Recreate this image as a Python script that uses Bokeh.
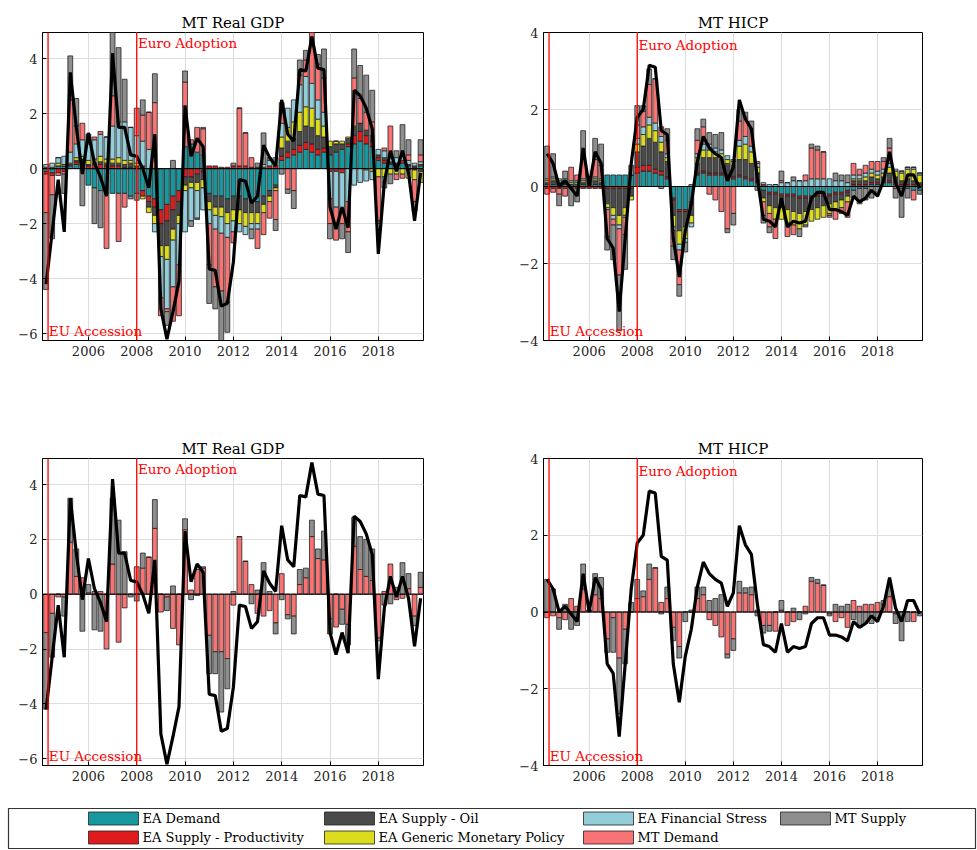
import numpy as np
from bokeh.plotting import figure
from bokeh.layouts import column, row
from bokeh.models import Range1d, Label, FixedTicker, Span
from bokeh.core.properties import value
from bokeh.embed import file_html
from bokeh.resources import INLINE

quarters = [2004.25 + 0.25 * i for i in range(63)]
series_names = ["EA Demand", "EA Supply - Productivity", "EA Supply - Oil",
                "EA Generic Monetary Policy", "EA Financial Stress", "MT Demand", "MT Supply"]
colors = ["#17989f", "#e01b1b", "#4a4a4a", "#dcdc1e", "#92cdd9", "#f87474", "#8e8e8e"]

gdp_total = [-4.2,-2.3,-0.4,-2.3,3.5,1.5,-0.2,1.3,0.2,-0.3,-1.0,4.2,1.5,1.5,0.5,0.45,0.0,-0.7,1.25,-5.1,
             -6.2,-5.2,-4.1,2.3,0.45,1.1,0.8,-3.65,-3.7,-5.0,-4.9,-3.4,-0.4,-0.45,-1.25,-1.0,0.85,0.4,0.1,2.5,
             1.25,1.0,3.6,3.55,4.8,3.65,3.6,-1.4,-2.2,-1.4,-2.15,2.85,2.65,2.2,1.45,-3.1,-0.5,0.65,-0.1,0.65,
             -0.15,-1.9,-0.15]
gdp_mt_demand = [-1.4,-0.7,-0.1,-0.1,1.9,0.65,0.6,0.05,0.1,0.1,-2.0,1.1,-1.75,-0.5,0.0,1.0,0.95,1.35,2.4,-0.65,
                 -0.1,-1.25,-1.85,2.35,0.15,0.9,0.95,-1.5,-2.1,-2.1,-2.35,-0.4,2.1,1.2,0.35,-0.7,-0.8,-0.6,-1.05,0.75,
                 -0.75,-0.8,0.35,0.6,2.1,1.3,1.25,-0.9,-1.2,-0.55,-1.1,1.75,0.9,0.65,0.5,-1.6,0.1,1.1,-0.2,-0.15,
                 0.2,-0.8,0.25]
gdp_mt_supply = [-2.8,-1.6,0.0,-0.7,1.6,1.0,-1.35,0.3,-1.3,-1.35,0.0,2.4,2.7,1.55,-0.1,-0.25,0.55,0.0,1.05,0.0,
                 -0.5,0.3,0.0,0.4,-0.2,-0.05,0.05,-1.4,-0.8,-2.2,-1.1,0.1,0.0,0.0,-0.35,0.15,1.15,0.1,-0.4,-0.2,
                 -0.15,-0.65,0.55,0.35,0.6,0.35,1.05,-0.55,0.0,-0.55,-0.75,1.05,1.2,1.35,1.15,-0.1,-0.4,-0.35,0.25,1.15,
                 0.55,-0.35,0.55]
gdp_ea_demand = [-0.1,-0.15,0.1,0.1, 0.1,0.15,0.2, -0.6,-0.7,-0.8,-0.9, -0.9,-0.9,-0.9,-1.0,-0.9, -0.8,-1.0,-1.1,
                 -1.5,-1.3,-1.0,-0.8, 0.8,0.9,0.6,0.5, -0.9,-1.0,-1.0,-1.1,-1.0, -1.0,-1.1,-1.2,-1.2,-1.0,-0.8,-0.6,
                 0.3,0.4,0.5,0.6,0.7,0.6,0.5,0.6, 0.5,0.6,0.7,0.8, 0.9,1.0,0.9,0.8, 0.3,0.2,0.15,0.1,0.2,0.1,0.05,0.1]
gdp_ea_prod = [-0.1,-0.1,-0.15,-0.1, 0.05,0.1,0.1, 0.1,0.15,0.15,0.1, 0.1,0.1,0.05,0.05,0.0, -0.2,-0.2,-0.3,
               -0.5,-0.6,-0.5,-0.4, -0.3,-0.3,-0.2,-0.1, 0.1,0.1,0.05,0.05,0.1, 0.1,0.1,0.05,0.05,0.05,0.1,0.1,
               0.15,0.2,0.2,0.25,0.25,0.3,0.2,0.15, -0.1,-0.1,-0.15,0.1, 0.3,0.35,0.3,0.2, 0.1,0.1,0.05,0.05,0.1,0.05,0.05,0.05]
gdp_ea_oil = [0.0,0.0,0.0,0.0, 0.0,0.05,0.05, 0.05,0.05,0.1,0.1, 0.1,0.1,0.1,0.15,0.1, 0.1,-0.2,-0.3,
              -0.8,-0.9,-0.7,-0.5, -0.3,-0.2,-0.3,-0.3, -0.3,-0.4,-0.4,-0.5,-0.5, -0.5,-0.5,-0.4,-0.4,-0.3,-0.2,-0.1,
              0.3,0.4,0.4,0.5,0.6,0.6,0.5,0.4, 0.3,0.3,0.2,0.2, 0.3,0.3,0.2,0.2, 0.1,0.1,0.05,0.05,0.0,-0.05,-0.05,-0.1]
gdp_ea_mp = [0.05,0.05,0.1,0.05, 0.05,0.1,0.1, 0.15,0.15,0.2,0.15, 0.15,0.2,0.15,0.1,0.1, -0.1,-0.2,-0.3,
             -0.4,-0.5,-0.4,-0.3, -0.2,-0.2,-0.3,-0.3, -0.3,-0.3,-0.35,-0.4,-0.4, -0.5,-0.5,-0.4,-0.4,-0.3,-0.2,-0.1,
             0.4,0.5,0.6,0.7,0.7,0.7,0.6,0.4, 0.2,0.1,0.1,0.05, 0.05,0.0,-0.05,-0.1, -0.3,-0.3,-0.2,-0.2,-0.2,-0.3,-0.35,-0.4]
gdp_ea_fs = [0.1,0.15,0.2,0.3, 0.4,0.5,0.6, 0.6,0.7,0.8,0.8, 1.2,1.3,1.4,1.2,1.0, 0.9,0.7,-0.3,
             -1.5,-1.8,-1.7,-1.5, -1.5,-1.2,-1.0,-0.8, -0.5,-0.5,-0.6,-0.5,-0.4, -0.3,-0.3,-0.2,-0.2,0.1,0.2,0.3,
             0.5,0.7,0.8,1.0,1.1,0.9,0.7,0.5, -1.0,-1.3,-1.3,-1.2, -0.6,-0.5,-0.4,-0.3, 0.2,0.25,0.2,0.2,0.15,0.15,0.1,0.1]

hicp_total = [0.85,0.6,0.0,0.15,-0.05,-0.25,1.0,0.0,0.9,0.6,-1.35,-1.6,-3.25,-1.35,0.6,1.8,2.0,3.15,3.1,1.45,
              1.35,-1.35,-2.35,-1.15,-0.45,0.65,1.3,1.0,0.85,0.75,0.15,0.5,2.25,1.75,1.5,0.2,-0.85,-0.9,-1.05,-0.3,
              -1.05,-0.9,-0.95,-0.9,-0.3,-0.15,-0.15,-0.6,-0.6,-0.65,-0.75,-0.25,-0.4,-0.3,-0.1,-0.25,0.15,0.9,0.1,-0.25,
              0.3,0.3,-0.05]
hicp_mt_demand = [-0.15,-0.1,-0.15,-0.2,0.35,0.15,0.6,0.05,0.45,0.35,-0.7,-0.15,-1.2,-0.45,0.0,0.35,0.4,0.85,1.15,0.25,
                  0.35,-0.4,-0.9,0.0,0.0,0.35,0.45,-0.2,-0.35,-0.65,-1.1,-0.7,0.5,0.5,0.45,0.05,-0.35,-0.35,-0.5,0.05,
                  -0.35,-0.25,0.0,0.15,0.8,0.75,0.7,-0.05,-0.25,-0.15,-0.4,0.3,0.15,0.2,0.2,0.25,0.2,0.4,-0.05,0.0,
                  0.0,-0.25,0.0]
hicp_mt_supply = [0.85,0.6,-0.3,0.2,-0.45,-0.35,0.65,0.0,0.55,0.55,-0.35,-0.9,-1.45,-0.9,0.25,0.5,0.15,0.4,0.0,-0.05,
                  0.3,-0.35,-0.3,-0.25,0.05,0.3,0.2,0.3,0.35,0.45,-0.1,-0.3,0.3,0.13,0.2,-0.1,-0.2,-0.15,0.0,0.25,
                  0.0,0.1,-0.2,-0.05,0.1,0.1,0.0,-0.05,0.2,0.15,0.2,-0.2,-0.4,-0.3,-0.3,-0.15,0.1,0.25,-0.25,-0.75,
                  -0.25,0.0,-0.1]
hicp_ea_demand = [0.05]*10 + [0.3,0.3,0.3,0.3,0.3] + [0.35,0.4,0.4,0.35,0.3,0.2] + [-0.3,-0.6,-0.6,-0.4] + \
                 [0.3,0.35,0.3,0.3,0.3,0.25,0.2] + [0.25,0.2,0.15,0.1] + \
                 [-0.1,-0.15,-0.15,-0.2,-0.2,-0.2,-0.25,-0.25,-0.25,-0.2,-0.2,-0.2,-0.15,-0.15,-0.1] + \
                 [-0.1,-0.05,-0.05,0.05,0.05,0.1,0.1,0.05,-0.05,-0.05,-0.1,-0.1]
hicp_ea_prod = [-0.05]*10 + [-0.05]*5 + [0.15,0.15,0.15,0.1,0.1,0.05] + [-0.05]*4 + [0.05]*7 + [0.05]*4 + \
               [0.05] + [-0.05]*14 + [0.05]*12
hicp_ea_oil = [0.05,0.1,0.05,0.05,0.0,0.0,0.05,0.05,0.1,0.05] + [-0.4,-0.5,-0.7,-0.5,-0.2] + \
              [0.4,0.5,0.7,0.7,0.5,0.4] + [-0.4,-0.5,-0.4,-0.3] + [0.25,0.35,0.4,0.4,0.35,0.3,0.3] + \
              [0.4,0.45,0.4,0.2] + [-0.2,-0.3,-0.35,-0.3,-0.35,-0.4,-0.4,-0.35,-0.3,-0.3,-0.25,-0.2,-0.2,-0.15,-0.1] + \
              [0.1,0.1,0.1,0.15,0.1,0.1,0.2,0.15,0.1,0.15,0.1,0.05]
hicp_ea_mp = [0.05]*10 + [-0.1,-0.2,-0.25,-0.2,-0.1] + [0.2,0.3,0.35,0.3,0.25,0.1] + [-0.3,-0.35,-0.3,-0.2] + \
             [0.15,0.2,0.2,0.15,0.15,0.1,0.1] + [0.35,0.4,0.3,0.15] + \
             [-0.1,-0.2,-0.3,-0.3,-0.35,-0.35,-0.4,-0.35,-0.3,-0.3,-0.3,-0.25,-0.2,-0.2,-0.15] + \
             [0.05,0.05,0.1,0.1,0.1,0.1,0.15,0.15,0.2,0.25,0.3,0.2]
hicp_ea_fs = [0.05]*10 + [-0.05,-0.1,-0.1,-0.05,0.0] + [0.15,0.2,0.2,0.2,0.15,0.1] + [-0.1,-0.15,-0.1,-0.1] + \
             [0.1,0.15,0.15,0.1,0.1,0.1,0.05] + [0.15,0.2,0.15,0.1] + \
             [0.05,0.05,0.05,0.1,0.1,0.15,0.15,0.15,0.2,0.2,0.2,0.2,0.15,0.15,0.1] + \
             [0.1,0.1,0.1,0.1,0.1,0.1,0.1,0.05,0.05,0.05,0.05,0.05]

year_ticks = [2006, 2008, 2010, 2012, 2014, 2016, 2018]
gdp_ticks = [-6, -4, -2, 0, 2, 4]
hicp_ticks = [-4, -2, 0, 2, 4]
eu_accession = 2004.33
euro_adoption = 2008.0

FONT = "DejaVu Serif"


def make_panel(title, comps, comp_idx, total, yr, yticks, ml, mr, mt, mb, w, h, euro_y, eu_y):
    p = figure(width=w, height=h, output_backend="svg", toolbar_location=None,
               x_range=Range1d(2004.1, 2019.87), y_range=Range1d(*yr),
               min_border_left=ml, min_border_right=mr, min_border_top=mt, min_border_bottom=mb,
               title=title)
    p.title.text_font = FONT
    p.title.text_font_size = "15px"
    p.title.text_font_style = "normal"
    p.title.text_color = "black"
    p.title.align = "center"
    p.title.standoff = 2
    x = np.array(quarters)
    pos = np.zeros(len(x)); neg = np.zeros(len(x))
    for vals, k in zip(comps, comp_idx):
        v = np.array(vals, dtype=float)
        bottom = np.where(v >= 0, pos, neg)
        top = bottom + v
        pos = np.where(v >= 0, top, pos)
        neg = np.where(v < 0, top, neg)
        p.vbar(x=x, bottom=bottom, top=top, width=0.2, fill_color=colors[k],
               line_color="#222222", line_width=0.8)
    p.line(x, total, line_color="black", line_width=3.2)
    p.add_layout(Span(location=0, dimension="width", line_color="black", line_width=1))
    p.add_layout(Span(location=eu_accession, dimension="height", line_color="#ff0000", line_width=1.3))
    p.add_layout(Span(location=euro_adoption, dimension="height", line_color="#ff0000", line_width=1.3))
    p.add_layout(Label(x=euro_adoption + 0.05, y=euro_y, text="Euro Adoption", text_color="#ff0000",
                       text_font=FONT, text_font_size="13.5px", text_baseline="top"))
    p.add_layout(Label(x=eu_accession + 0.03, y=eu_y, text="EU Accession", text_color="#ff0000",
                       text_font=FONT, text_font_size="13.5px", text_baseline="bottom"))
    p.xaxis.ticker = FixedTicker(ticks=year_ticks)
    p.yaxis.ticker = FixedTicker(ticks=yticks)
    for ax in (p.xaxis[0], p.yaxis[0]):
        ax.major_label_text_font = FONT
        ax.major_label_text_font_size = "13px"
        ax.major_label_text_color = "#262626"
        ax.major_tick_in = 4
        ax.major_tick_out = 0
        ax.minor_tick_in = 0
        ax.minor_tick_out = 0
        ax.axis_line_color = "black"
    p.xgrid.grid_line_color = "#dddddd"
    p.ygrid.grid_line_color = "#dddddd"
    p.outline_line_color = "black"
    p.outline_line_alpha = 1
    return p


gdp_full = [gdp_ea_demand, gdp_ea_prod, gdp_ea_oil, gdp_ea_mp, gdp_ea_fs, gdp_mt_demand, gdp_mt_supply]
hicp_full = [hicp_ea_demand, hicp_ea_prod, hicp_ea_oil, hicp_ea_mp, hicp_ea_fs, hicp_mt_demand, hicp_mt_supply]

p1 = make_panel("MT Real GDP", gdp_full, range(7), gdp_total, (-6.25, 4.95), gdp_ticks,
                42, 65, 32, 60, 488, 400, 4.85, -6.2)
p2 = make_panel("MT HICP", hicp_full, range(7), hicp_total, (-4, 4), hicp_ticks,
                55, 47, 32, 60, 481, 400, 3.88, -3.95)
p3 = make_panel("MT Real GDP", [gdp_mt_demand, gdp_mt_supply], [5, 6], gdp_total, (-6.25, 4.95), gdp_ticks,
                42, 65, 58, 35, 488, 400, 4.85, -6.2)
p4 = make_panel("MT HICP", [hicp_mt_demand, hicp_mt_supply], [5, 6], hicp_total, (-4, 4), hicp_ticks,
                55, 47, 58, 35, 481, 400, 3.88, -3.95)

# legend panel (page coordinates, offset 800 vertically)
lg = figure(width=977, height=50, output_backend="svg", toolbar_location=None,
            x_range=Range1d(0, 977), y_range=Range1d(50, 0),
            min_border_left=0, min_border_right=0, min_border_top=0, min_border_bottom=0)
lg.axis.visible = False
lg.grid.visible = False
lg.outline_line_color = None
lg.quad(left=[8], right=[975], top=[8], bottom=[48], fill_color="white", line_color="#333333", line_width=1.2)
legend_order = [0, 2, 4, 6, 1, 3, 5]
col_x = [88, 324, 583, 780]
row_y = [18, 37]
for slot, k in enumerate(legend_order):
    r, c = divmod(slot, 4)
    x0 = col_x[c]; y0 = row_y[r]
    lg.quad(left=[x0], right=[x0 + 50], top=[y0 - 6.5], bottom=[y0 + 6.5],
            fill_color=colors[k], line_color="#222222", line_width=0.8)
    lg.text(x=[x0 + 54], y=[y0], text=[series_names[k]], text_font=value(FONT),
            text_font_size="13px", text_baseline="middle", text_color="black")

layout = column(row(p1, p2), row(p3, p4), lg, spacing=0)
open("out.html", "w").write(file_html(layout, INLINE))
